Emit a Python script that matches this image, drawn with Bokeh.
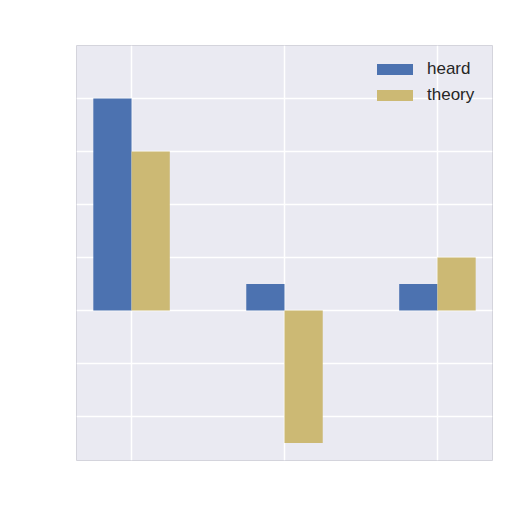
from bokeh.plotting import figure
from bokeh.models import ColumnDataSource, Range1d, FixedTicker, Legend, LegendItem
from bokeh.transform import dodge
from bokeh.embed import file_html
from bokeh.resources import INLINE

categories = [0, 1, 2]
heard = [4.0, 0.5, 0.5]
theory = [3.0, -2.5, 1.0]
series_names = ["heard", "theory"]
colors = ["#4C72B0", "#CCB974"]

source = ColumnDataSource(dict(x=categories, heard=heard, theory=theory))

p = figure(
    width=504,
    height=504,
    output_backend="svg",
    toolbar_location=None,
    x_range=Range1d(-0.36, 2.36),
    y_range=Range1d(-2.83, 5.0),
    min_border_left=76,
    min_border_right=12,
    min_border_top=45,
    min_border_bottom=44,
)
p.background_fill_color = "#EAEAF2"
p.border_fill_color = "white"
p.outline_line_color = "#d4d4dc"

p.xaxis.visible = False
p.yaxis.visible = False
p.xgrid.ticker = FixedTicker(ticks=categories)
p.ygrid.ticker = FixedTicker(ticks=[-2, -1, 0, 1, 2, 3, 4])
p.grid.grid_line_color = "white"
p.grid.grid_line_width = 1.5

r1 = p.vbar(x=dodge("x", -0.125, range=p.x_range), top="heard", width=0.25,
            source=source, fill_color=colors[0], line_color=None)
r2 = p.vbar(x=dodge("x", 0.125, range=p.x_range), top="theory", width=0.25,
            source=source, fill_color=colors[1], line_color=None)

legend = Legend(
    items=[LegendItem(label=series_names[0], renderers=[r1]),
           LegendItem(label=series_names[1], renderers=[r2])],
    location=(296, 355),
    background_fill_alpha=0,
    border_line_color=None,
    glyph_width=45,
    glyph_height=14,
    label_height=20,
    spacing=6,
    label_standoff=10,
    margin=0,
    padding=5,
    label_text_font="Liberation Sans",
    label_text_font_size="17px",
    label_text_color="#262626",
)
p.add_layout(legend)

open("out.html", "w").write(file_html(p, INLINE))
